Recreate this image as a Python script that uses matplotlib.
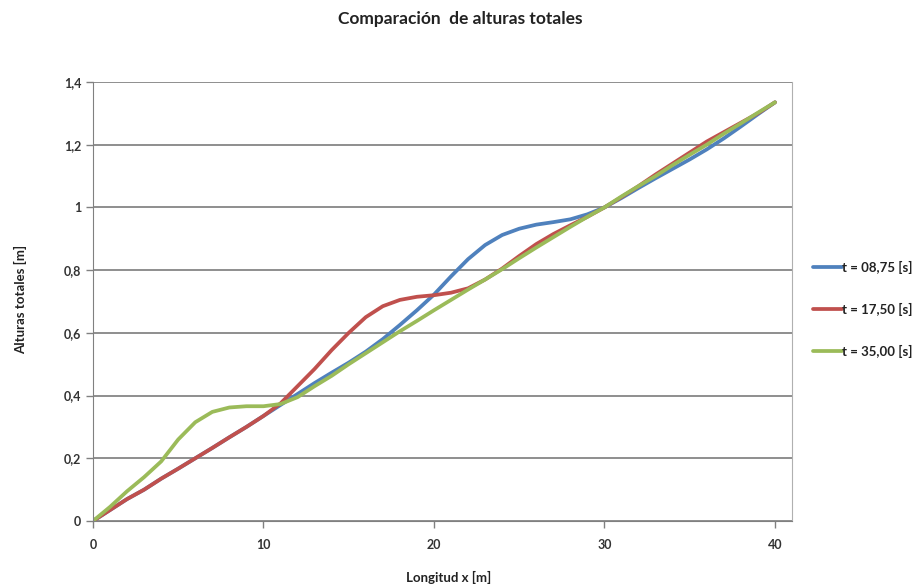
import matplotlib.pyplot as plt

x = list(range(0, 41))

h_0875 = [0, 0.035, 0.07, 0.10, 0.135, 0.167, 0.2, 0.233, 0.267, 0.3,
          0.335, 0.37, 0.405, 0.44, 0.473, 0.505, 0.54, 0.58, 0.625, 0.672,
          0.722, 0.78, 0.835, 0.88, 0.912, 0.932, 0.945, 0.953, 0.962, 0.978,
          1.0, 1.03, 1.062, 1.093, 1.123, 1.153, 1.185, 1.22, 1.258, 1.297, 1.335]
h_1750 = [0, 0.035, 0.07, 0.10, 0.135, 0.167, 0.2, 0.233, 0.267, 0.3,
          0.335, 0.375, 0.43, 0.485, 0.545, 0.6, 0.65, 0.685, 0.705, 0.715,
          0.72, 0.728, 0.742, 0.77, 0.805, 0.845, 0.883, 0.915, 0.943, 0.97,
          1.0, 1.033, 1.068, 1.105, 1.14, 1.175, 1.21, 1.24, 1.27, 1.3, 1.335]
h_3500 = [0, 0.045, 0.095, 0.14, 0.19, 0.26, 0.315, 0.348, 0.362, 0.366,
          0.366, 0.373, 0.395, 0.43, 0.463, 0.5, 0.535, 0.57, 0.605, 0.638,
          0.672, 0.705, 0.738, 0.77, 0.803, 0.838, 0.872, 0.905, 0.938, 0.97,
          1.0, 1.035, 1.068, 1.1, 1.135, 1.168, 1.2, 1.235, 1.268, 1.302, 1.335]

labels = ["t = 08,75 [s]", "t = 17,50 [s]", "t = 35,00 [s]"]
colors = ["#4F81BD", "#C0504D", "#9BBB59"]

plt.rcParams['font.family'] = ['Lato', 'DejaVu Sans']

fig = plt.figure(figsize=(9.15, 5.87), dpi=100)
ax = fig.add_axes([0.1016, 0.1124, 0.764, 0.748])

for y, lab, c in zip([h_0875, h_1750, h_3500], labels, colors):
    ax.plot(x, y, color=c, linewidth=2.7, label=lab,
            solid_capstyle='round', solid_joinstyle='round')

ax.set_xlim(0, 41)
ax.set_ylim(0, 1.4)
ax.set_xticks([0, 10, 20, 30, 40])
ax.set_yticks([0, 0.2, 0.4, 0.6, 0.8, 1.0, 1.2, 1.4])
ax.set_yticklabels(["0", "0,2", "0,4", "0,6", "0,8", "1", "1,2", "1,4"])
ax.set_xticklabels(["0", "10", "20", "30", "40"])
ax.tick_params(axis='both', direction='out', length=5, color='#808080',
               labelsize=9, labelcolor='#333333', width=1)
for t in ax.get_xticklabels() + ax.get_yticklabels():
    t.set_fontweight('bold')
ax.tick_params(axis='x', pad=8)

ax.grid(axis='y', color='#707070', linewidth=1.1)
ax.set_axisbelow(True)
ax.spines['top'].set_visible(False)
ax.spines['right'].set_color('#B0B0B0')
for s in ['left', 'bottom']:
    ax.spines[s].set_color('#808080')

fig.text(0.503, 0.968, "Comparación  de alturas totales", ha='center', va='center',
         fontsize=12.5, fontweight='bold', color='#222222')
fig.text(0.022, 0.49, "Alturas totales [m]", rotation=90, ha='center', va='center',
         fontsize=9.5, fontweight='bold', color='#222222')
fig.text(0.49, 0.017, "Longitud x [m]", ha='center', va='center',
         fontsize=9.5, fontweight='bold', color='#222222')

leg = fig.legend(loc='center left', bbox_to_anchor=(0.875, 0.473), frameon=False,
                 fontsize=9.5, handlelength=2.2, handletextpad=0.0,
                 labelspacing=2.2)
for t in leg.get_texts():
    t.set_fontweight('bold')
    t.set_color('#222222')

fig.savefig("out.png", dpi=100)
